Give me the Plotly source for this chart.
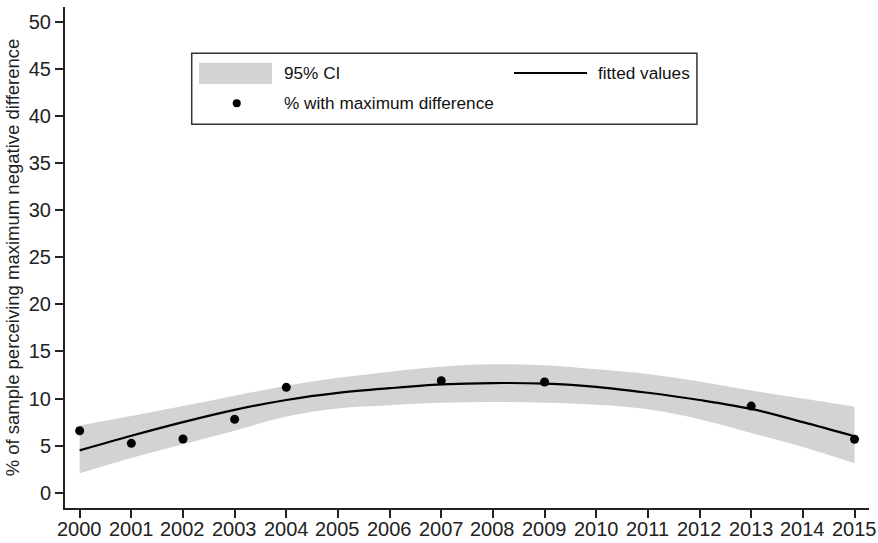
import plotly.graph_objects as go

# Observed data points
years_pts = [2000, 2001, 2002, 2003, 2004, 2007, 2009, 2013, 2015]
pct_max_diff = [6.59, 5.25, 5.71, 7.8, 11.19, 11.9, 11.76, 9.2, 5.68]

# Fitted curve and 95% CI (read at each year)
years_fit = list(range(2000, 2016))
fitted = [4.5, 6.05, 7.5, 8.8, 9.85, 10.6, 11.1, 11.5, 11.65, 11.58, 11.25, 10.62, 9.85, 8.9, 7.5, 6.0]
ci_upper = [7.15, 8.15, 9.2, 10.3, 11.35, 12.2, 12.85, 13.38, 13.63, 13.53, 13.1, 12.6, 11.8, 10.85, 10.0, 9.14]
ci_lower = [2.07, 3.7, 5.15, 6.6, 8.1, 8.95, 9.3, 9.55, 9.63, 9.56, 9.35, 8.86, 7.8, 6.35, 4.85, 3.13]

x_ticks = list(range(2000, 2016))
x_tick_labels = [str(y) for y in x_ticks]
y_ticks = list(range(0, 51, 5))

FONT = "Liberation Sans, Arial, Helvetica, sans-serif"
AX = "#222222"
BAND = "#d3d3d3"

fig = go.Figure()
fig.add_trace(go.Scatter(x=years_fit, y=ci_lower, mode="lines", line=dict(width=0, shape="spline"),
                         showlegend=False, hoverinfo="skip"))
fig.add_trace(go.Scatter(x=years_fit, y=ci_upper, mode="lines", line=dict(width=0, shape="spline"),
                         fill="tonexty", fillcolor=BAND, name="95% CI", showlegend=False))
fig.add_trace(go.Scatter(x=years_fit, y=fitted, mode="lines",
                         line=dict(color="#000000", width=2.2, shape="spline"),
                         name="fitted values", showlegend=False))
fig.add_trace(go.Scatter(x=years_pts, y=pct_max_diff, mode="markers",
                         marker=dict(color="#000000", size=9),
                         name="% with maximum difference", showlegend=False))

axis_common = dict(showline=True, linecolor=AX, linewidth=2, ticks="outside", ticklen=8,
                   tickwidth=1.5, tickcolor=AX, showgrid=False, zeroline=False,
                   tickfont=dict(family=FONT, size=20, color=AX))
fig.update_xaxes(range=[1999.716, 2015.28], tickvals=x_ticks, showticklabels=False,
                 automargin=False, **axis_common)
fig.update_yaxes(range=[-1.61, 51.55], tickvals=y_ticks,
                 title=dict(text="% of sample perceiving maximum negative difference",
                            font=dict(family=FONT, size=18.5, color=AX), standoff=4),
                 automargin=False, **axis_common)

# Legend box (manual, in paper coordinates)
shapes = [
    dict(type="rect", xref="paper", yref="paper", x0=0.1576, x1=0.786, y0=0.766, y1=0.9076,
         line=dict(color="#333333", width=1.5), fillcolor="white", layer="above"),
    dict(type="rect", xref="paper", yref="paper", x0=0.1667, x1=0.2575, y0=0.8463, y1=0.8888,
         line=dict(width=0), fillcolor=BAND, layer="above"),
    dict(type="line", xref="paper", yref="paper", x0=0.5585, x1=0.6493, y0=0.8683, y1=0.8683,
         line=dict(color="#000000", width=2.2), layer="above"),
    dict(type="circle", xref="paper", yref="paper", xsizemode="pixel", ysizemode="pixel",
         xanchor=0.2136, yanchor=0.8078, x0=-4, x1=4, y0=-4, y1=4,
         line=dict(width=0), fillcolor="#000000", layer="above"),
]
annotations = [
    dict(text="95% CI", xref="paper", yref="paper", x=0.2695, y=0.8677, xanchor="left",
         yanchor="middle", showarrow=False, font=dict(family=FONT, size=17.2, color="#111111")),
    dict(text="fitted values", xref="paper", yref="paper", x=0.6604, y=0.8677, xanchor="left",
         yanchor="middle", showarrow=False, font=dict(family=FONT, size=17.2, color="#111111")),
    dict(text="% with maximum difference", xref="paper", yref="paper", x=0.2695, y=0.8084,
         xanchor="left", yanchor="middle", showarrow=False,
         font=dict(family=FONT, size=17.2, color="#111111")),
]
# x tick labels placed as annotations so their distance from the axis matches
for xv, lab in zip(x_ticks, x_tick_labels):
    annotations.append(dict(text=lab, x=xv, xref="x", y=0, yref="paper", xanchor="center",
                            yanchor="top", yshift=-9, showarrow=False, borderpad=0,
                            font=dict(family=FONT, size=20, color=AX)))

fig.update_layout(width=878, height=543, margin=dict(l=65, r=9, t=7, b=35, pad=0),
                  plot_bgcolor="white", paper_bgcolor="white",
                  shapes=shapes, annotations=annotations, showlegend=False)

fig.write_html("out.html", config={"displayModeBar": False},
               post_script="document.body.style.margin='0';"
                           "document.documentElement.style.overflow='hidden';")
